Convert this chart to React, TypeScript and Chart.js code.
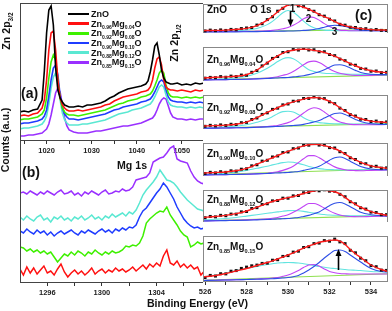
import React, { useEffect, useRef } from "react";
import { Chart, registerables } from "chart.js";
Chart.register(...registerables);

const W = 392;
const H = 311;
const FONT = '"Liberation Sans", Arial, sans-serif';

// ---------------- Panel (a): Zn 2p ----------------
const A_EV = [1014, 1015, 1016, 1017, 1018, 1019, 1019.5, 1020, 1020.5, 1021, 1021.5, 1022, 1022.5, 1023, 1023.5, 1024, 1024.5, 1025, 1026, 1027, 1028, 1029, 1030, 1031, 1032, 1033, 1034, 1035, 1036, 1037, 1038, 1039, 1040, 1041, 1042, 1042.5, 1043, 1043.5, 1044, 1044.5, 1045, 1045.5, 1046, 1046.5, 1047, 1047.5, 1048, 1049, 1050, 1051, 1052, 1053, 1054, 1055];
const A_ZNO = [29, 30, 29, 31, 32, 41, 70, 108, 131, 135, 116, 73, 51, 43, 39, 36, 35, 34, 34, 35, 34, 36, 36, 37, 38, 40, 43, 45, 48, 50, 52, 53, 54, 55, 57, 60, 69, 81, 95, 98, 86, 71, 63, 59, 58, 57, 57, 58, 56, 57, 56, 58, 57, 58];
const A_MG04 = [25, 26, 25, 27, 28, 33, 41, 61, 91, 108, 110, 91, 61, 43, 36, 33, 31, 30, 30, 31, 30, 31, 32, 33, 34, 36, 37, 40, 42, 44, 45, 46, 47, 49, 50, 51, 54, 61, 73, 82, 84, 76, 61, 54, 52, 51, 51, 50, 51, 50, 49, 51, 50, 51];
const A_MG08 = [21, 22, 22, 23, 24, 27, 31, 43, 63, 79, 86, 81, 61, 43, 33, 29, 27, 26, 26, 25, 26, 27, 28, 29, 30, 31, 33, 35, 37, 38, 40, 41, 42, 44, 45, 46, 47, 50, 55, 61, 68, 71, 68, 56, 48, 45, 44, 44, 43, 44, 43, 44, 43, 44];
const A_MG10 = [17, 18, 18, 19, 20, 22, 25, 31, 45, 61, 73, 76, 66, 46, 33, 27, 24, 22, 22, 21, 22, 23, 24, 25, 26, 27, 29, 31, 32, 34, 35, 36, 37, 39, 40, 41, 42, 45, 49, 54, 59, 61, 59, 51, 44, 41, 40, 39, 39, 38, 39, 38, 39, 38];
const A_MG12 = [12, 13, 13, 14, 15, 17, 20, 25, 37, 53, 64, 68, 59, 41, 28, 21, 18, 16, 16, 16, 17, 17, 18, 19, 20, 21, 23, 25, 27, 28, 29, 31, 32, 33, 35, 36, 37, 40, 44, 49, 54, 56, 54, 46, 39, 36, 35, 34, 34, 33, 34, 33, 34, 33];
const A_MG15 = [5, 5, 6, 6, 7, 8, 10, 12, 17, 26, 37, 48, 53, 49, 36, 23, 15, 11, 9, 8, 8, 8, 9, 10, 10, 11, 12, 13, 14, 15, 15, 16, 17, 18, 20, 21, 22, 23, 26, 31, 37, 41, 43, 42, 35, 28, 24, 22, 22, 21, 22, 21, 22, 22];
const A_TICKS = [1015, 1020, 1025, 1030, 1035, 1040, 1045, 1050];
const A_LABELS = [1020, 1030, 1040, 1050];

// ---------------- Panel (b): Mg 1s ----------------
const B_EV = [1294, 1294.25, 1294.5, 1294.75, 1295, 1295.25, 1295.5, 1295.75, 1296, 1296.25, 1296.5, 1296.75, 1297, 1297.25, 1297.5, 1297.75, 1298, 1298.25, 1298.5, 1298.75, 1299, 1299.25, 1299.5, 1299.75, 1300, 1300.25, 1300.5, 1300.75, 1301, 1301.25, 1301.5, 1301.75, 1302, 1302.25, 1302.5, 1302.75, 1303, 1303.25, 1303.5, 1303.75, 1304, 1304.25, 1304.5, 1304.75, 1305, 1305.25, 1305.5, 1305.75, 1306, 1306.25, 1306.5, 1306.75, 1307, 1307.25, 1307.5];
const B_MG04 = [14, 8, 16, 10, 15, 9, 13, 17, 10, 12, 8, 14, 19, 11, 6, 10, 13, 9, 12, 8, 11, 15, 9, 12, 14, 10, 13, 11, 15, 12, 14, 11, 13, 16, 12, 15, 18, 14, 19, 16, 20, 17, 27, 33, 20, 18, 22, 16, 19, 15, 18, 14, 16, 8, 12];
const B_MG08 = [36, 35, 32, 34, 31, 33, 30, 32, 29, 31, 26, 21, 25, 29, 27, 31, 28, 32, 30, 27, 31, 29, 33, 30, 28, 31, 29, 32, 30, 31, 33, 37, 36, 38, 37, 40, 47, 60, 64, 67, 70, 72, 71, 76, 68, 63, 58, 52, 48, 46, 36, 38, 41, 39, 40];
const B_MG10 = [52, 50, 54, 51, 49, 53, 50, 52, 48, 51, 47, 50, 52, 49, 51, 53, 50, 48, 52, 50, 53, 51, 49, 52, 54, 51, 53, 50, 54, 52, 55, 53, 56, 55, 58, 66, 72, 75, 80, 85, 90, 94, 100, 96, 90, 84, 76, 70, 64, 60, 57, 55, 56, 54, 55];
const B_MG12 = [66, 63, 67, 64, 62, 66, 68, 63, 65, 61, 66, 64, 67, 63, 65, 62, 66, 64, 67, 63, 65, 68, 64, 66, 63, 67, 65, 69, 66, 68, 70, 67, 71, 69, 73, 80, 88, 93, 97, 101, 106, 113, 108, 103, 102, 100, 96, 91, 87, 83, 80, 77, 74, 73, 72];
const B_MG15 = [90, 91, 89, 92, 90, 88, 91, 89, 92, 90, 88, 91, 93, 89, 90, 92, 88, 90, 87, 91, 89, 92, 90, 88, 91, 93, 89, 90, 92, 91, 94, 92, 93, 96, 103, 104, 105, 106, 110, 121, 123, 125, 126, 130, 135, 137, 124, 122, 121, 120, 112, 106, 102, 100, 99];
const B_TICKS = [1296, 1298, 1300, 1302, 1304, 1306];
const B_LABELS = [1296, 1300, 1304];

// ---------------- Panel (c): O 1s ----------------
const C_DATA_EV = [526, 526.25, 526.5, 526.75, 527, 527.25, 527.5, 527.75, 528, 528.25, 528.5, 528.75, 529, 529.25, 529.5, 529.75, 530, 530.25, 530.5, 530.75, 531, 531.25, 531.5, 531.75, 532, 532.25, 532.5, 532.75, 533, 533.25, 533.5, 533.75, 534, 534.25, 534.5, 534.75, 535];
const C_FIT_EV = [525.9, 526.5, 527, 527.5, 528, 528.5, 529, 529.25, 529.5, 529.75, 530, 530.25, 530.5, 530.75, 531, 531.25, 531.5, 531.75, 532, 532.25, 532.5, 532.75, 533, 533.25, 533.5, 534, 534.5, 534.9];
const C_BG_EV = [525.9, 534.9];

const C1_DATA = [3.2, 4.5, 3.6, 4.8, 4.0, 5.6, 5.0, 6.9, 7.8, 8.5, 12.3, 14.4, 20.8, 25.2, 33.9, 38.3, 44.4, 45.3, 42.0, 40.9, 36.3, 33.8, 28.4, 26.2, 21.4, 18.7, 13.5, 12.2, 9.0, 8.6, 6.5, 6.7, 4.7, 5.4, 4.1, 3.8, 4.6];
const C1_FIT = [3.7, 4, 4.5, 5.5, 7.2, 11.5, 20, 26, 33, 39, 43.5, 44.5, 42.5, 40, 37, 33, 29, 25.5, 22, 18, 14, 11.5, 9.5, 8, 7, 5.2, 4.6, 4.3];
const C1_P1 = [2.5, 2.8, 3, 3.5, 4.5, 7, 13, 18, 24.5, 31.5, 35, 32.5, 26, 18.5, 12, 8, 5.5, 4.5, 4, 3.8, 3.6, 3.5, 3.5, 3.5, 3.5, 3.5, 3.5, 3.5];
const C1_P2 = [2, 2.1, 2.2, 2.3, 2.5, 3, 3.5, 4, 5, 6.5, 8.5, 12, 16.5, 22, 25, 24, 20, 14.5, 10, 6.5, 4.5, 4, 3.5, 3.5, 3.5, 3.5, 3.5, 3.5];
const C1_P3 = [1.5, 1.6, 1.7, 1.8, 2, 2.2, 2.5, 2.6, 2.8, 2.9, 3, 3.2, 3.5, 4, 4.5, 5.5, 7, 9, 11, 12, 11.5, 10, 8, 6, 4.5, 3.7, 3.5, 3.5];
const C1_BG = [2, 5.3];

const C2_DATA = [4.0, 5.1, 4.6, 6.2, 5.3, 6.9, 6.2, 8.4, 8.1, 12.3, 14.8, 21.4, 25.2, 31.9, 34.6, 40.3, 41.3, 44.4, 43.7, 45.9, 43.8, 44.1, 41.2, 41.3, 37.4, 35.8, 30.9, 28.7, 23.8, 22.3, 17.8, 16.9, 13.8, 14.1, 11.8, 12.3, 11.0];
const C2_FIT = [4.3, 5.2, 5.8, 6.8, 8.8, 15.5, 26, 31, 35.5, 39.5, 42, 43.5, 44.5, 45, 44.5, 43.3, 42, 40.5, 38, 35, 31.7, 28, 24.5, 21.5, 18.5, 14.5, 12.5, 11.5];
const C2_P1 = [2, 2.5, 3, 4.5, 6.5, 11, 18, 22.5, 27.5, 31.5, 33, 31.5, 27, 21, 16, 13.5, 12, 11, 10.5, 10.2, 10, 9.8, 9.6, 9.5, 9.4, 9.2, 9, 9];
const C2_P2 = [1.5, 1.8, 2, 2.3, 2.5, 3.2, 4, 5, 6, 8, 10, 13.5, 18, 23, 27, 28, 26, 22, 17, 13.5, 11, 9.5, 8.5, 8, 7.8, 8, 8.5, 9];
const C2_P3 = [1.5, 1.8, 2, 2.2, 2.5, 3, 3.5, 4, 4.3, 4.7, 5, 5.8, 6.5, 7.5, 9, 11, 13, 16, 19.5, 22.5, 23, 21.5, 18.5, 15, 12, 9.5, 9, 9];
const C2_BG = [1.7, 8.3];

const C3_DATA = [3.8, 5.2, 4.3, 5.8, 5.0, 6.7, 6.3, 8.9, 9.3, 13.4, 15.5, 20.6, 22.8, 27.7, 29.4, 34.1, 35.3, 39.2, 39.6, 43.1, 43.2, 45.3, 43.4, 42.9, 38.3, 35.8, 29.4, 26.1, 20.4, 18.3, 13.9, 13.4, 10.6, 11.2, 9.2, 10.0, 8.8];
const C3_FIT = [4.2, 4.8, 5.4, 6.8, 9.8, 16, 23.5, 26.8, 30, 33.2, 36, 38.3, 40.3, 42.2, 43.8, 44.5, 44, 42, 39, 35, 30, 25.3, 21, 17.5, 14.5, 11.2, 9.8, 9.2];
const C3_P1 = [1.5, 2.3, 3, 4, 6, 9.5, 14, 17.5, 21.5, 24.5, 25, 24, 20.5, 16, 12.5, 10.5, 9, 8.3, 7.8, 7.5, 7.3, 7.2, 7.1, 7, 7, 7, 7, 7];
const C3_P2 = [1, 1.3, 1.5, 1.8, 2, 2.7, 3.5, 4.2, 5, 7, 9, 12.5, 17, 22.5, 27.5, 30, 28.5, 24, 18.5, 13.5, 10, 8, 6.5, 6.2, 6, 6, 6.2, 6.5];
const C3_P3 = [1, 1.3, 1.5, 1.7, 2, 2.5, 3, 3.3, 3.7, 4.1, 4.5, 5, 5.5, 6.5, 8, 10, 12, 15.5, 19, 22, 22.5, 20.5, 17, 13.5, 10.5, 7.5, 6.5, 6.3];
const C3_BG = [1, 7.7];

const C4_DATA = [3.6, 5.3, 4.4, 6.1, 5.2, 7.4, 7.0, 9.7, 10.3, 14.5, 16.0, 21.2, 22.4, 27.1, 28.5, 33.4, 34.2, 38.9, 39.8, 44.0, 43.9, 46.1, 44.0, 44.2, 40.4, 39.9, 34.6, 32.0, 25.9, 23.5, 18.6, 17.5, 13.7, 13.9, 11.2, 11.6, 10.1];
const C4_FIT = [4.2, 5, 5.8, 7.5, 10.8, 16.8, 23, 26, 29.2, 32.3, 35, 37.8, 40.5, 43, 44.6, 45.2, 44.7, 43.3, 41.2, 38.8, 35.5, 31.2, 26.8, 22.8, 19.5, 14.5, 12, 10.5];
const C4_P1 = [2, 3, 4, 5.5, 8, 11, 14, 15.8, 17.5, 19, 20, 19.5, 18, 16, 13.5, 12, 10.5, 9.7, 9.2, 9, 8.7, 8.5, 8.5, 8.6, 8.7, 9, 9, 9];
const C4_P2 = [1.5, 1.8, 2, 2.3, 2.5, 3.2, 4, 5, 6, 8, 10.5, 14, 19, 24.5, 29, 29, 26, 21.5, 17, 13, 10.5, 9, 8, 7.7, 7.5, 8, 8.3, 8.5];
const C4_P3 = [1.5, 1.8, 2, 2.2, 2.5, 3, 3.5, 4, 4.3, 4.7, 5, 5.8, 6.5, 8, 9.5, 11.5, 14, 18, 22.5, 26, 27, 25, 21, 17, 13.5, 10, 9, 9];
const C4_BG = [1.7, 10];

const C5_DATA = [6.1, 8.0, 7.4, 9.6, 9.0, 11.4, 11.3, 14.6, 15.1, 19.4, 20.6, 25.1, 26.2, 30.4, 30.9, 34.3, 34.2, 37.6, 38.1, 42.0, 42.4, 45.5, 44.8, 46.3, 44.3, 44.2, 39.8, 36.3, 29.1, 26.2, 20.4, 18.6, 14.2, 13.6, 10.5, 10.6, 8.4];
const C5_FIT = [6.5, 8, 9.6, 12, 15.8, 21.3, 27, 29.5, 31.6, 33.4, 35, 36.7, 38.8, 41, 43.2, 44.6, 45.4, 45.6, 45, 43.5, 40.5, 35.5, 30, 25.3, 21.2, 15, 11.2, 9];
const C5_P1 = [3, 4, 5, 6.5, 8.5, 10.5, 12.5, 13.5, 14.5, 15.5, 16.3, 16.5, 16.2, 15.3, 14, 12.8, 11.5, 10.7, 10, 9.7, 9.4, 9.2, 9, 9, 9, 9, 9, 9];
const C5_P2 = [1.5, 2, 2.3, 2.7, 3, 3.7, 4.5, 5.5, 6.5, 8.5, 10.5, 14, 18, 22.5, 26.5, 26.5, 24, 20, 16, 12.5, 10, 8.7, 8, 7.7, 7.5, 8, 8.2, 8.3];
const C5_P3 = [1.5, 1.8, 2, 2.2, 2.5, 3, 3.5, 4, 4.3, 4.7, 5, 5.8, 6.5, 8, 9.5, 12, 14.5, 19, 23.5, 27, 28, 26, 22, 18, 14, 10.5, 9, 8.7];
const C5_BG = [1.7, 9.3];

const C6_DATA = [4.5, 6.6, 5.9, 8.3, 8.1, 10.8, 11.4, 13.6, 14.9, 16.2, 16.9, 18.6, 18.9, 21.8, 22.3, 25.6, 26.4, 29.9, 30.8, 34.5, 35.3, 38.4, 38.9, 41.4, 40.8, 42.9, 40.1, 38.4, 31.7, 29.2, 23.8, 21.3, 16.4, 15.3, 11.9, 11.6, 9.4];
const C6_FIT = [5, 6.5, 8.5, 11, 13.5, 16.5, 19.5, 21.2, 23, 25, 27, 29.2, 31.5, 33.8, 36, 37.8, 39.5, 40.7, 41.5, 42, 40.8, 37.5, 32.5, 28.3, 24.5, 17, 12.5, 10];
const C6_P1 = [5, 7, 9, 11.5, 13.5, 15.5, 17.5, 18.3, 19, 19.3, 19.5, 19.4, 19, 18.3, 17.5, 16.5, 15.5, 14.7, 14, 13.5, 13, 12.5, 12, 11.8, 11.5, 10.5, 10.2, 10];
const C6_P2 = [1.5, 1.8, 2, 2.3, 2.5, 3, 3.5, 4, 4.5, 5.7, 7, 9, 11.5, 14.5, 17, 17.5, 16, 13, 10.5, 9.3, 8.5, 8.2, 8, 8, 8, 8, 8, 8];
const C6_P3 = [1.5, 1.8, 2, 2.2, 2.5, 2.8, 3, 3.3, 3.6, 4, 4.5, 5.3, 6.5, 9, 12, 15.5, 19.5, 24, 28, 31.5, 32, 30.5, 27, 23.5, 20, 13.5, 10.5, 10];
const C6_BG = [1.7, 8.3];

const C_TICKS = [526, 527, 528, 529, 530, 531, 532, 533, 534];
const C_LABELS = [526, 528, 530, 532, 534];
// arrows: [eV, from counts, to counts]
const C1_ARROW = [530.1, 34, 10];
const C6_ARROW = [532.4, 12, 33];

const ZN_FRAC = ["", "0.96", "0.92", "0.90", "0.88", "0.85"];
const MG_FRAC = ["", "0.04", "0.08", "0.10", "0.12", "0.15"];
const SERIES_COLORS = ["#000000", "#ff1010", "#3ef000", "#1f3cff", "#5ae8d2", "#9a30ff"];

// layout (pixels)
const AB_L = 20, AB_R = 203, A_T = 3, A_B = 141, B_B = 283;
const C_L = 203, C_R = 388;
const C_TOPS = [2, 47, 95, 143, 190, 236, 282];
const X_AXIS_H = 14;

const pts = (xs: number[], ys: number[]) => xs.map((x, i) => ({ x, y: ys[i] }));

function lineDS(xs: number[], ys: number[], color: string, width: number, smooth = false): any {
  return {
    data: pts(xs, ys),
    borderColor: color,
    backgroundColor: color,
    borderWidth: width,
    pointRadius: 0,
    fill: false,
    tension: 0,
    cubicInterpolationMode: smooth ? "monotone" : "default",
  };
}

function boxPlugin(color: string, sides: string): any {
  return {
    id: "boxborder",
    afterDraw(chart: any) {
      const { ctx, chartArea: a } = chart;
      const L = Math.round(a.left) + 0.5;
      const R = Math.round(a.right) - 0.5;
      const T = Math.round(a.top) + 0.5;
      const B = Math.round(a.bottom) - 0.5;
      ctx.save();
      ctx.strokeStyle = color;
      ctx.lineWidth = 1;
      ctx.beginPath();
      if (sides.includes("t")) { ctx.moveTo(L - 0.5, T); ctx.lineTo(R + 0.5, T); }
      if (sides.includes("b")) { ctx.moveTo(L - 0.5, B); ctx.lineTo(R + 0.5, B); }
      if (sides.includes("l")) { ctx.moveTo(L, T - 0.5); ctx.lineTo(L, B + 0.5); }
      if (sides.includes("r")) { ctx.moveTo(R, T - 0.5); ctx.lineTo(R, B + 0.5); }
      ctx.stroke();
      ctx.restore();
    },
  };
}

function arrowPlugin(arrow: number[]): any {
  return {
    id: "arrow",
    afterDatasetsDraw(chart: any) {
      const { ctx } = chart;
      const x = Math.round(chart.scales.x.getPixelForValue(arrow[0])) + 0.5;
      const y0 = chart.scales.y.getPixelForValue(arrow[1]);
      const y1 = chart.scales.y.getPixelForValue(arrow[2]);
      const dir = y1 > y0 ? 1 : -1;
      ctx.save();
      ctx.strokeStyle = "#000";
      ctx.fillStyle = "#000";
      ctx.lineWidth = 1.6;
      ctx.beginPath();
      ctx.moveTo(x, y0);
      ctx.lineTo(x, y1 - dir * 5);
      ctx.stroke();
      ctx.beginPath();
      ctx.moveTo(x, y1);
      ctx.lineTo(x - 3, y1 - dir * 7);
      ctx.lineTo(x + 3, y1 - dir * 7);
      ctx.closePath();
      ctx.fill();
      ctx.restore();
    },
  };
}

type Spec = {
  area: { l: number; t: number; r: number; b: number };
  xMin: number; xMax: number; yMax: number;
  datasets: any[];
  ticks?: number[]; labels?: number[];
  boxColor: string; sides: string;
  extra?: any[];
};

function makeChart(canvas: HTMLCanvasElement, s: Spec) {
  const showX = !!s.ticks;
  return new Chart(canvas, {
    type: "line",
    data: { datasets: s.datasets },
    options: {
      responsive: false,
      animation: false,
      devicePixelRatio: 1,
      events: [],
      layout: {
        padding: {
          left: s.area.l,
          top: s.area.t,
          right: W - s.area.r,
          bottom: H - s.area.b - (showX ? X_AXIS_H : 0),
        },
      },
      plugins: { legend: { display: false }, tooltip: { enabled: false } },
      scales: {
        x: {
          type: "linear",
          min: s.xMin,
          max: s.xMax,
          display: showX,
          afterFit: (sc: any) => { sc.height = X_AXIS_H; },
          afterBuildTicks: (sc: any) => { sc.ticks = (s.ticks || []).map((v) => ({ value: v })); },
          ticks: {
            autoSkip: false,
            maxRotation: 0,
            minRotation: 0,
            padding: 2,
            color: "#222",
            font: { family: FONT, size: 7.5, weight: "bold" },
            callback: (v: any) => ((s.labels || []).includes(Number(v)) ? String(v) : ""),
          },
          grid: { drawOnChartArea: false, drawTicks: true, tickLength: 3, color: "#333", lineWidth: 1 },
          border: { display: false },
        },
        y: { type: "linear", min: 0, max: s.yMax, display: false },
      },
    } as any,
    plugins: [boxPlugin(s.boxColor, s.sides), ...(s.extra || [])],
  });
}

function buildSpecs(): Spec[] {
  const aSeries = [A_ZNO, A_MG04, A_MG08, A_MG10, A_MG12, A_MG15];
  const bSeries = [B_MG04, B_MG08, B_MG10, B_MG12, B_MG15];
  const specs: Spec[] = [];
  specs.push({
    area: { l: AB_L, t: A_T, r: AB_R, b: A_B },
    xMin: 1014.1, xMax: 1054.7, yMax: A_B - A_T,
    datasets: aSeries.map((ys, i) => lineDS(A_EV, ys, SERIES_COLORS[i], 1.6)),
    ticks: A_TICKS, labels: A_LABELS, boxColor: "#444", sides: "tlb",
  });
  specs.push({
    area: { l: AB_L, t: A_B, r: AB_R, b: B_B },
    xMin: 1294.0, xMax: 1307.4, yMax: B_B - A_B,
    datasets: bSeries.map((ys, i) => lineDS(B_EV, ys, SERIES_COLORS[i + 1], 1.5)),
    ticks: B_TICKS, labels: B_LABELS, boxColor: "#444", sides: "lb",
  });
  const cSets = [
    [C1_DATA, C1_FIT, C1_P1, C1_P2, C1_P3, C1_BG],
    [C2_DATA, C2_FIT, C2_P1, C2_P2, C2_P3, C2_BG],
    [C3_DATA, C3_FIT, C3_P1, C3_P2, C3_P3, C3_BG],
    [C4_DATA, C4_FIT, C4_P1, C4_P2, C4_P3, C4_BG],
    [C5_DATA, C5_FIT, C5_P1, C5_P2, C5_P3, C5_BG],
    [C6_DATA, C6_FIT, C6_P1, C6_P2, C6_P3, C6_BG],
  ];
  cSets.forEach((set, i) => {
    const [data, fit, p1, p2, p3, bg] = set;
    const last = i === cSets.length - 1;
    const extra: any[] = [];
    if (i === 0) extra.push(arrowPlugin(C1_ARROW));
    if (last) extra.push(arrowPlugin(C6_ARROW));
    specs.push({
      area: { l: C_L, t: C_TOPS[i], r: C_R, b: C_TOPS[i + 1] },
      xMin: 525.9, xMax: 534.82, yMax: C_TOPS[i + 1] - C_TOPS[i],
      datasets: [
        lineDS(C_FIT_EV, fit, "#ff1a1a", 1.4, true),
        {
          data: pts(C_DATA_EV, data),
          showLine: false,
          pointStyle: "rect",
          pointRadius: 2.1,
          pointBorderWidth: 0,
          pointBackgroundColor: "#111",
          borderColor: "#111",
        },
        lineDS(C_FIT_EV, p3, "#2f4fe6", 1.1, true),
        lineDS(C_FIT_EV, p2, "#c044f5", 1.1, true),
        lineDS(C_FIT_EV, p1, "#62e4e0", 1.1, true),
        lineDS(C_BG_EV, bg, "#8fe050", 1.1),
      ],
      ticks: last ? C_TICKS : undefined,
      labels: last ? C_LABELS : undefined,
      boxColor: "#888",
      sides: last ? "tlrb" : "tlr",
      extra,
    });
  });
  return specs;
}

const SPEC_COUNT = 8;

function Formula({ i, size, sub }: { i: number; size: number; sub: number }) {
  if (!ZN_FRAC[i]) return <>ZnO</>;
  const s: React.CSSProperties = { fontSize: sub, position: "relative", top: size * 0.3 };
  return (
    <>
      Zn<span style={s}>{ZN_FRAC[i]}</span>Mg<span style={s}>{MG_FRAC[i]}</span>O
    </>
  );
}

function Txt({ x, y, size, children, rotate = false, center = false }: any) {
  const st: React.CSSProperties = {
    position: "absolute",
    left: x,
    top: y,
    fontSize: size,
    lineHeight: 1,
    whiteSpace: "nowrap",
    fontWeight: "bold",
    color: "#111",
    transform: rotate ? "translate(-50%,-50%) rotate(-90deg)" : center ? "translate(-50%,-50%)" : "translateY(-50%)",
  };
  return <div style={st}>{children}</div>;
}

export default function App() {
  const refs = useRef<Array<HTMLCanvasElement | null>>([]);
  useEffect(() => {
    const specs = buildSpecs();
    const charts = specs.map((s, i) => makeChart(refs.current[i] as HTMLCanvasElement, s));
    return () => charts.forEach((c) => c.destroy());
  }, []);

  const cLabelY = [10, 60, 108, 153.5, 200, 246.5];
  const legendY = [14, 23.7, 33.4, 43, 52.7, 62.3];

  return (
    <div style={{ position: "fixed", left: 0, top: 0, width: W, height: H, background: "#fff", overflow: "hidden", fontFamily: FONT }}>
      {Array.from({ length: SPEC_COUNT }).map((_, i) => (
        <canvas
          key={i}
          ref={(el) => { refs.current[i] = el; }}
          width={W}
          height={H}
          style={{ position: "absolute", left: 0, top: 0, width: W, height: H }}
        />
      ))}
      {legendY.map((y, i) => (
        <React.Fragment key={"lg" + i}>
          <div style={{ position: "absolute", left: 68, top: y - 1.25, width: 21, height: 2.5, background: SERIES_COLORS[i] }} />
          <Txt x={91} y={y} size={9}>
            <Formula i={i} size={9} sub={5} />
          </Txt>
        </React.Fragment>
      ))}
      {cLabelY.map((y, i) => (
        <Txt key={"cl" + i} x={207} y={y} size={10}>
          <Formula i={i} size={10} sub={5.6} />
        </Txt>
      ))}
      <Txt x={250} y={10} size={10}>O 1s</Txt>
      <Txt x={292.5} y={9} size={10} center>1</Txt>
      <Txt x={308.5} y={18.5} size={10} center>2</Txt>
      <Txt x={334.5} y={31.5} size={10} center>3</Txt>
      <Txt x={355} y={15} size={14}>(c)</Txt>
      <Txt x={21} y={92.5} size={14}>(a)</Txt>
      <Txt x={22} y={171.5} size={14}>(b)</Txt>
      <Txt x={117} y={164.5} size={10.6}>Mg 1s</Txt>
      <Txt x={6} y={31} size={10.6} rotate>
        Zn 2p<span style={{ fontSize: 6.5, position: "relative", top: 3 }}>3/2</span>
      </Txt>
      <Txt x={174} y={42.5} size={10.6} rotate>
        Zn 2p<span style={{ fontSize: 6.5, position: "relative", top: 3 }}>1/2</span>
      </Txt>
      <Txt x={5} y={140} size={10.6} rotate>Counts (a.u.)</Txt>
      <Txt x={197.5} y={302.5} size={10.6} center>Binding Energy (eV)</Txt>
    </div>
  );
}
